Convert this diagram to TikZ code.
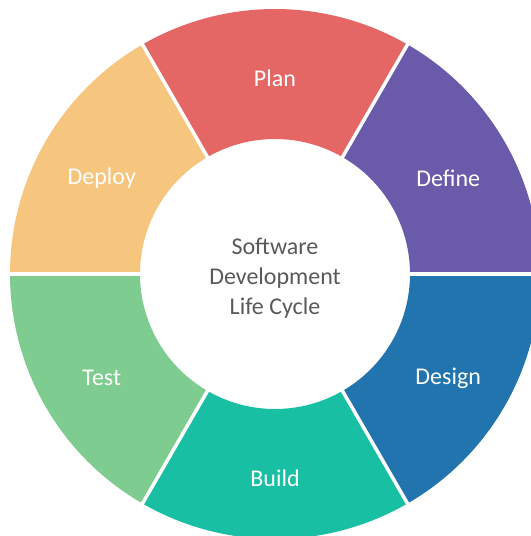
\documentclass[tikz,border=0pt]{standalone}
\usepackage{fontspec}
\setmainfont{Carlito}
\definecolor{planC}{HTML}{E56765}
\definecolor{defineC}{HTML}{6A5BAA}
\definecolor{designC}{HTML}{2174AE}
\definecolor{buildC}{HTML}{19BFA3}
\definecolor{testC}{HTML}{7ECC8F}
\definecolor{deployC}{HTML}{F6C67F}
\definecolor{centerC}{HTML}{595959}
\begin{document}
\begin{tikzpicture}[x=1bp,y=1bp,
  seglabel/.style={text=white,font=\fontsize{24bp}{28bp}\selectfont,inner sep=0pt,yshift=-4bp},
  gapline/.style={white,line width=3.5bp}]
\useasboundingbox (-275,-262) rectangle (256,274);
\clip (-275,-262) rectangle (256,274);
\def\ri{135}
\def\ro{265}
\foreach \a/\c in {60/planC,0/defineC,-60/designC,-120/buildC,180/testC,120/deployC}{
  \fill[\c] (\a:\ro) arc[start angle=\a,end angle=\a+60,radius=\ro]
    -- (\a+60:\ri) arc[start angle=\a+60,end angle=\a,radius=\ri] -- cycle;
}
\foreach \a in {0,60,120,180,240,300}{
  \draw[gapline] (\a:\ri-2) -- (\a:\ro+5);
}
\node[seglabel] (plan) at (90:200) {Plan};
\node[seglabel] (define) at (30:200) {Define};
\node[seglabel] (design) at (-30:200) {Design};
\node[seglabel] (build) at (-90:200) {Build};
\node[seglabel] (test) at (210:200) {Test};
\node[seglabel] (deploy) at (150:200) {Deploy};
\node[text=centerC,align=center,font=\fontsize{24bp}{30bp}\selectfont,yshift=-4bp] (center) at (0,0) {Software\\Development\\Life Cycle};
\end{tikzpicture}
\end{document}
